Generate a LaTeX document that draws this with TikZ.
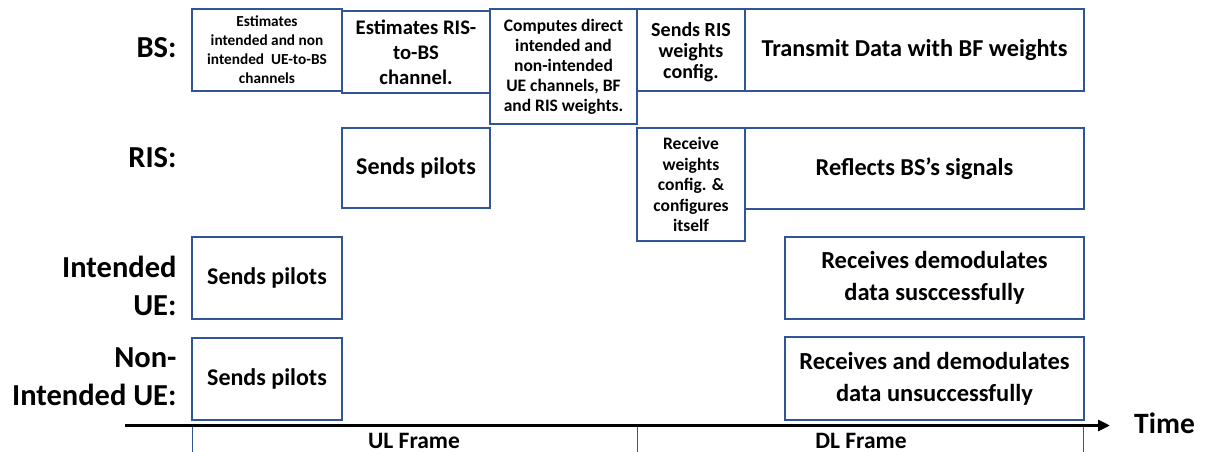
\documentclass[tikz,border=0pt]{standalone}
\usepackage{fontspec}
\setmainfont{Carlito}
\usetikzlibrary{arrows.meta}
\definecolor{boxblue}{RGB}{47,85,151}
\tikzset{
  box/.style={draw=boxblue, line width=1.5pt, align=center, inner sep=2pt, font=\bfseries},
  rowlabel/.style={anchor=east, align=right, font=\bfseries\fontsize{30.5}{38}\selectfont},
  frameline/.style={draw=boxblue, line width=1pt},
  framelabel/.style={anchor=base, inner sep=0pt, text depth=0pt, font=\bfseries\fontsize{23.5}{28}\selectfont},
}
\begin{document}
\begin{tikzpicture}[x=1pt,y=-1pt]
\useasboundingbox (0,0) rectangle (1205,452);
% BS row
\node[box, minimum width=150pt, minimum height=82pt, font=\bfseries\fontsize{15.3}{19}\selectfont] (b1) at (267,50) {Estimates\\intended and non\\intended\ \ UE-to-BS\\channels};
\node[box, minimum width=148pt, minimum height=82pt, font=\bfseries\fontsize{20.7}{25}\selectfont] (b2) at (416,52) {Estimates RIS-\\to-BS\\channel.};
\node[box, minimum width=147pt, minimum height=115pt, font=\bfseries\fontsize{17.5}{20}\selectfont] (b3) at (563.5,66.5) {Computes direct\\intended and\\non-intended\\UE channels, BF\\and RIS weights.};
\node[box, minimum width=108pt, minimum height=82pt, font=\bfseries\fontsize{20}{21}\selectfont] (b4) at (691,50) {\\[-2pt]Sends RIS\\weights\\config.};
\node[box, minimum width=339pt, minimum height=82pt, font=\bfseries\fontsize{24.3}{28}\selectfont] (b5) at (914.5,50) {Transmit Data with BF weights};
% RIS row
\node[box, minimum width=148pt, minimum height=80pt, font=\bfseries\fontsize{24}{28}\selectfont] (r1) at (416,168) {Sends pilots};
\node[box, minimum width=108pt, minimum height=113pt, font=\bfseries\fontsize{17.5}{20.5}\selectfont] (r2) at (691,184.5) {Receive\\weights\\config. \&\\configures\\itself};
\node[box, minimum width=339pt, minimum height=81pt, font=\bfseries\fontsize{24.3}{28}\selectfont] (r3) at (914.5,168.5) {Reflects BS’s signals};
% UE rows
\node[box, minimum width=150pt, minimum height=82pt, font=\bfseries\fontsize{24}{28}\selectfont] (u1) at (267,278) {Sends pilots};
\node[box, minimum width=299pt, minimum height=82pt, font=\bfseries\fontsize{24.5}{32}\selectfont] (u2) at (934.5,278) {Receives demodulates\\data susccessfully};
\node[box, minimum width=150pt, minimum height=82pt, font=\bfseries\fontsize{24}{28}\selectfont] (n1) at (267,379) {Sends pilots};
\node[box, minimum width=299pt, minimum height=83pt, font=\bfseries\fontsize{24.5}{32}\selectfont] (n2) at (934.5,378.5) {Receives and demodulates\\data unsuccessfully};
% row labels
\node[rowlabel] (lbs) at (180,48) {BS:};
\node[rowlabel] (lris) at (180,158) {RIS:};
\node[rowlabel] (lue) at (180,286) {Intended\\UE:};
\node[rowlabel] (lnue) at (180,376.5) {Non-\\Intended UE:};
% time axis
\coordinate (axs) at (125,425.5);
\coordinate (axe) at (1110,425.5);
\draw[line width=3pt, -{Triangle[length=12pt,width=11pt]}] (axs) -- (axe);
\node[anchor=west, inner sep=0pt, font=\bfseries\fontsize{29.5}{34}\selectfont] (time) at (1134,423) {Time};
\coordinate (f1) at (192,427);
\coordinate (f1b) at (192,452);
\coordinate (f2) at (637,427);
\coordinate (f2b) at (637,452);
\coordinate (f3) at (1083.5,427);
\coordinate (f3b) at (1083.5,452);
\draw[frameline] (f1) -- (f1b);
\draw[frameline] (f2) -- (f2b);
\draw[frameline] (f3) -- (f3b);
\node[framelabel] (ul) at (414,448) {UL Frame};
\node[framelabel] (dl) at (861,448) {DL Frame};
\end{tikzpicture}
\end{document}
